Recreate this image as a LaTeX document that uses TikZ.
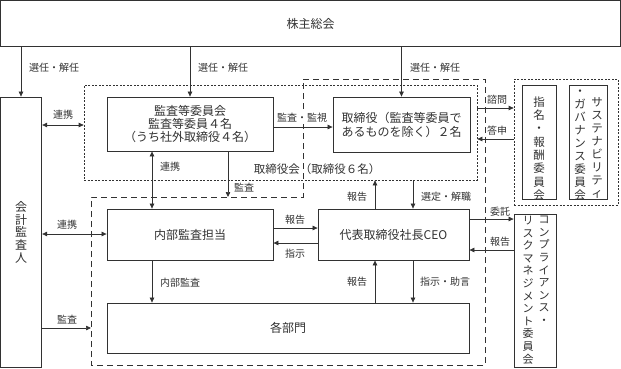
\documentclass[tikz,border=0pt]{standalone}
\usepackage{fontspec}
\setmainfont{Noto Sans CJK JP}
\usetikzlibrary{arrows.meta}
\definecolor{ink}{RGB}{50,50,50}
\begin{document}
\begin{tikzpicture}[x=1pt,y=-1pt,
  box/.style={draw=ink, line width=0.8pt, fill=white, inner sep=0pt, text=ink, font=\fontsize{12}{13}\selectfont, align=center},
  arr/.style={draw=ink, line width=0.7pt, -{Triangle[length=5pt,width=4.5pt]}},
  darr/.style={draw=ink, line width=0.7pt, {Triangle[length=5pt,width=4.5pt]}-{Triangle[length=5pt,width=4.5pt]}},
  lbl/.style={text=ink, font=\fontsize{10}{11}\selectfont, inner sep=1pt},
  fine/.style={draw=ink, line width=0.7pt, dash pattern=on 2pt off 1.5pt, inner sep=0pt},
  coarse/.style={draw=ink, line width=0.7pt, dash pattern=on 6pt off 4pt},
  vtxt/.style={text=ink, font=\fontsize{11}{12.6}\selectfont, align=center, inner sep=0pt}
]
\useasboundingbox (0,0) rectangle (621,368);

% helper levels
\coordinate (h108) at (0,108);
\coordinate (h125) at (0,125);
\coordinate (h127) at (0,127);
\coordinate (h139) at (0,139);
\coordinate (h219) at (0,219);
\coordinate (h228) at (0,228);
\coordinate (h234) at (0,234);
\coordinate (h243) at (0,243);
\coordinate (h250) at (0,250);
\coordinate (h328) at (0,328);
\coordinate (v152) at (152,0);
\coordinate (v228) at (228,0);
\coordinate (v375) at (375,0);
\coordinate (v413) at (413,0);
\coordinate (execTop) at (228,197);
\coordinate (execLeft) at (91,328);

% dashed groups
\node[fine, minimum width=393pt, minimum height=95pt] (board) at (280.5,132.5) {};
\draw[coarse] (303,79) -- (485,79) -- (485,365) -- (91,365) -- (91,197) -- (303,197) -- cycle;
\node[fine, minimum width=104pt, minimum height=126pt] (comm) at (566,142) {};

% boxes
\node[box, minimum width=620pt, minimum height=46pt] (top) at (310.5,23.5) {株主総会};
\node[box, minimum width=41.5pt, minimum height=270.5pt, font=\fontsize{12}{12.8}\selectfont] (kaikei) at (21,232.25) {会\\計\\監\\査\\人};
\node[box, minimum width=166pt, minimum height=54pt] (kansa) at (190,124) {監査等委員会\\監査等委員４名\\（うち社外取締役４名）};
\node[box, minimum width=137pt, minimum height=55pt, font=\fontsize{12}{14}\selectfont] (tori) at (401.5,124.5) {取締役（監査等委員で\\あるものを除く）２名};
\node[box, minimum width=166pt, minimum height=51pt] (naibu) at (190,234.5) {内部監査担当};
\node[box, minimum width=151pt, minimum height=51pt] (ceo) at (393.5,234.5) {代表取締役社長CEO};
\node[box, minimum width=362pt, minimum height=50pt] (kakubu) at (288,328) {各部門};
\node[box, minimum width=34pt, minimum height=114pt] (shimei) at (539,142) {};
\node[box, minimum width=38pt, minimum height=114pt] (sust) at (588,142) {};
\node[box, minimum width=42pt, minimum height=153pt] (comp) at (535,290.5) {};

% vertical texts
\node[vtxt, font=\fontsize{11.5}{13.3}\selectfont] (shimeiT) at (539,148.5) {指\\名\\・\\報\\酬\\委\\員\\会};
\node[vtxt, font=\fontsize{11.5}{13}\selectfont] (sustR) at (597,147.5) {サ\\ス\\テ\\ナ\\ビ\\リ\\テ\\ィ};
\node[vtxt, font=\fontsize{11.5}{13}\selectfont] (sustL) at (580,145) {・\\ガ\\バ\\ナ\\ン\\ス\\委\\員\\会};
\node[vtxt, anchor=north] (compR) at (544,216) {コ\\ン\\プ\\ラ\\イ\\ア\\ン\\ス\\・};
\node[vtxt, anchor=north] (compL) at (528,216) {リ\\ス\\ク\\マ\\ネ\\ジ\\メ\\ン\\ト\\委\\員\\会};

% board label
\node[text=ink, font=\fontsize{11.5}{12}\selectfont, inner sep=0pt] (boardL) at (317,169) {取締役会（取締役６名）};

% connectors
\draw[arr] (top.south -| kaikei.north) -- (kaikei.north);
\draw[arr] (top.south -| kansa.north) -- (kansa.north);
\draw[arr] (top.south -| tori.north) -- (tori.north);
\draw[darr] (kaikei.east |- h125) -- (board.west |- h125);
\draw[arr] (kansa.east |- h127) -- (tori.west |- h127);
\draw[arr] (board.east |- h108) -- (comm.west |- h108);
\draw[arr] (comm.west |- h139) -- (board.east |- h139);
\draw[darr] (kansa.south -| v152) -- (naibu.north -| v152);
\draw[arr] (kansa.south -| v228) -- (execTop);
\draw[arr] (ceo.north -| v375) -- (board.south -| v375);
\draw[arr] (board.south -| v413) -- (ceo.north -| v413);
\draw[arr] (naibu.east |- h228) -- (ceo.west |- h228);
\draw[arr] (ceo.west |- h243) -- (naibu.east |- h243);
\draw[darr] (kaikei.east |- h234) -- (naibu.west |- h234);
\draw[arr] (naibu.south -| v152) -- (kakubu.north -| v152);
\draw[arr] (kaikei.east |- h328) -- (execLeft);
\draw[arr] (kakubu.north -| v375) -- (ceo.south -| v375);
\draw[arr] (ceo.south -| v413) -- (kakubu.north -| v413);
\draw[arr] (ceo.east |- h219) -- (comp.west |- h219);
\draw[arr] (comp.west |- h250) -- (ceo.east |- h250);

% labels
\node[lbl] (l1) at (54,68) {選任・解任};
\node[lbl] (l2) at (223,68) {選任・解任};
\node[lbl] (l3) at (435,68) {選任・解任};
\node[lbl] (l4) at (63,115) {連携};
\node[lbl, fill=white] (l5) at (302,118) {監査・監視};
\node[lbl] (l6) at (497,100) {諮問};
\node[lbl] (l7) at (497,131) {答申};
\node[lbl] (l8) at (170,167) {連携};
\node[lbl] (l9) at (244,188) {監査};
\node[lbl] (l10) at (357,197) {報告};
\node[lbl] (l11) at (446,197) {選定・解職};
\node[lbl] (l12) at (295,220) {報告};
\node[lbl] (l13) at (295,254) {指示};
\node[lbl] (l14) at (67,225) {連携};
\node[lbl] (l15) at (180,283) {内部監査};
\node[lbl] (l16) at (67,320) {監査};
\node[lbl] (l17) at (357,282) {報告};
\node[lbl] (l18) at (445,282) {指示・助言};
\node[lbl] (l19) at (500,212) {委託};
\node[lbl] (l20) at (500,242) {報告};
\end{tikzpicture}
\end{document}
